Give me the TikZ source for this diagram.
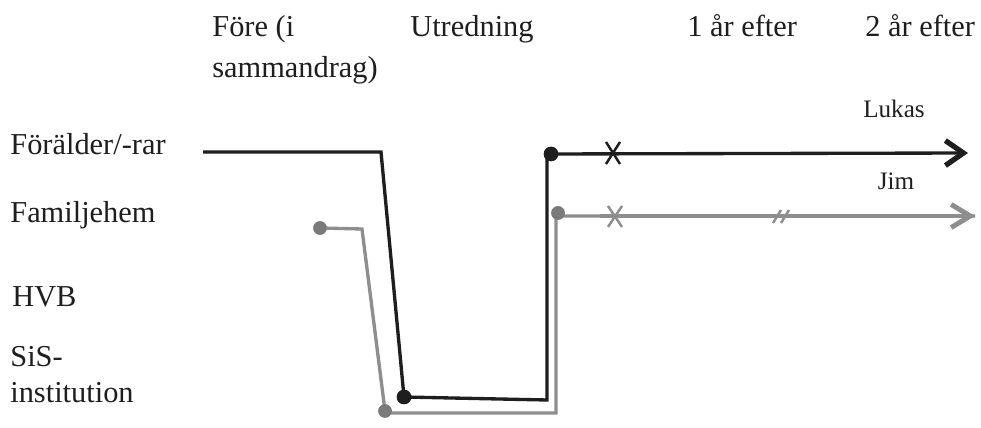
\documentclass[tikz,border=0pt]{standalone}
\usepackage{fontspec}
\setmainfont{Liberation Serif}
\usetikzlibrary{arrows.meta}
\definecolor{darkline}{HTML}{1E1E1E}
\definecolor{greyline}{HTML}{8E8E8E}
\definecolor{greydot}{HTML}{7A7A7A}
\begin{document}
\begin{tikzpicture}[x=0.02cm,y=-0.02cm,
    lbl/.style={anchor=base west,inner sep=0pt,text=darkline,font=\fontsize{17.3}{20}\selectfont},
    kid/.style={anchor=base,inner sep=0pt,text=darkline,font=\fontsize{14.3}{17}\selectfont},
    bdot/.style={circle,fill=darkline,inner sep=0pt,minimum size=0.29cm},
    gdot/.style={circle,fill=greydot,inner sep=0pt,minimum size=0.27cm},
    bpath/.style={draw=darkline,line width=1.9pt},
    gpath/.style={draw=greyline,line width=1.9pt},
    cross/.style={line width=1.4pt}]
    \useasboundingbox (0,0) rectangle (981,428);

    \node[lbl] (fore) at (212,37) {Före (i};
    \node[lbl] (samm) at (212,78) {sammandrag)};
    \node[lbl] (utr) at (410,37) {Utredning};
    \node[lbl] (ett) at (687,37) {1 år efter};
    \node[lbl] (tva) at (865,37) {2 år efter};

    \node[lbl] (foralder) at (10,155) {Förälder/-rar};
    \node[lbl] (famhem) at (10,223) {Familjehem};
    \node[lbl] (hvb) at (12,307) {HVB};
    \node[lbl] (sis) at (10,367) {SiS-};
    \node[lbl] (inst) at (10,403) {institution};

    \node[kid] (lukas) at (894,118) {Lukas};
    \node[kid] (jim) at (896,190) {Jim};

    % Lukas
    \coordinate (b0) at (203,152);
    \coordinate (b1) at (381,152);
    \node[bdot] (bd1) at (404,397) {};
    \coordinate (b2) at (547,400);
    \node[bdot] (bd2) at (551,154) {};
    \coordinate (b3) at (968,153);
    \draw[bpath] (b0) -- (b1) -- (bd1.center) -- (b2) -- (547,154) -- (bd2.center);
    \draw[bpath,-{Straight Barb[length=0.36cm,width=0.5cm,line width=3pt]}] (bd2.center) -- (b3);
    \node[bdot] at (bd1) {};
    \node[bdot] at (bd2) {};

    % Jim
    \node[gdot] (gd1) at (320,228) {};
    \coordinate (g1) at (362,229);
    \node[gdot] (gd2) at (385,411) {};
    \coordinate (g2) at (556,413);
    \node[gdot] (gd3) at (558,213) {};
    \coordinate (g3) at (975,216);
    \draw[gpath] (gd1.center) -- (g1) -- (gd2.center) -- (385,413) -- (g2) -- (556,216) -- (g3);
    \draw[gpath,-{Straight Barb[length=0.38cm,width=0.46cm,line width=2.8pt]}] (600,216) -- (g3);
    \node[gdot] at (gd1) {};
    \node[gdot] at (gd2) {};
    \node[gdot] at (gd3) {};

    \draw[cross,darkline] (606,142) -- (620,164) (620,142) -- (606,164);
    \draw[cross,greyline] (608,206) -- (622,227) (622,206) -- (608,227);
    \draw[cross,greyline] (773,223) -- (781,210) (781,223) -- (789,210);
\end{tikzpicture}
\end{document}
